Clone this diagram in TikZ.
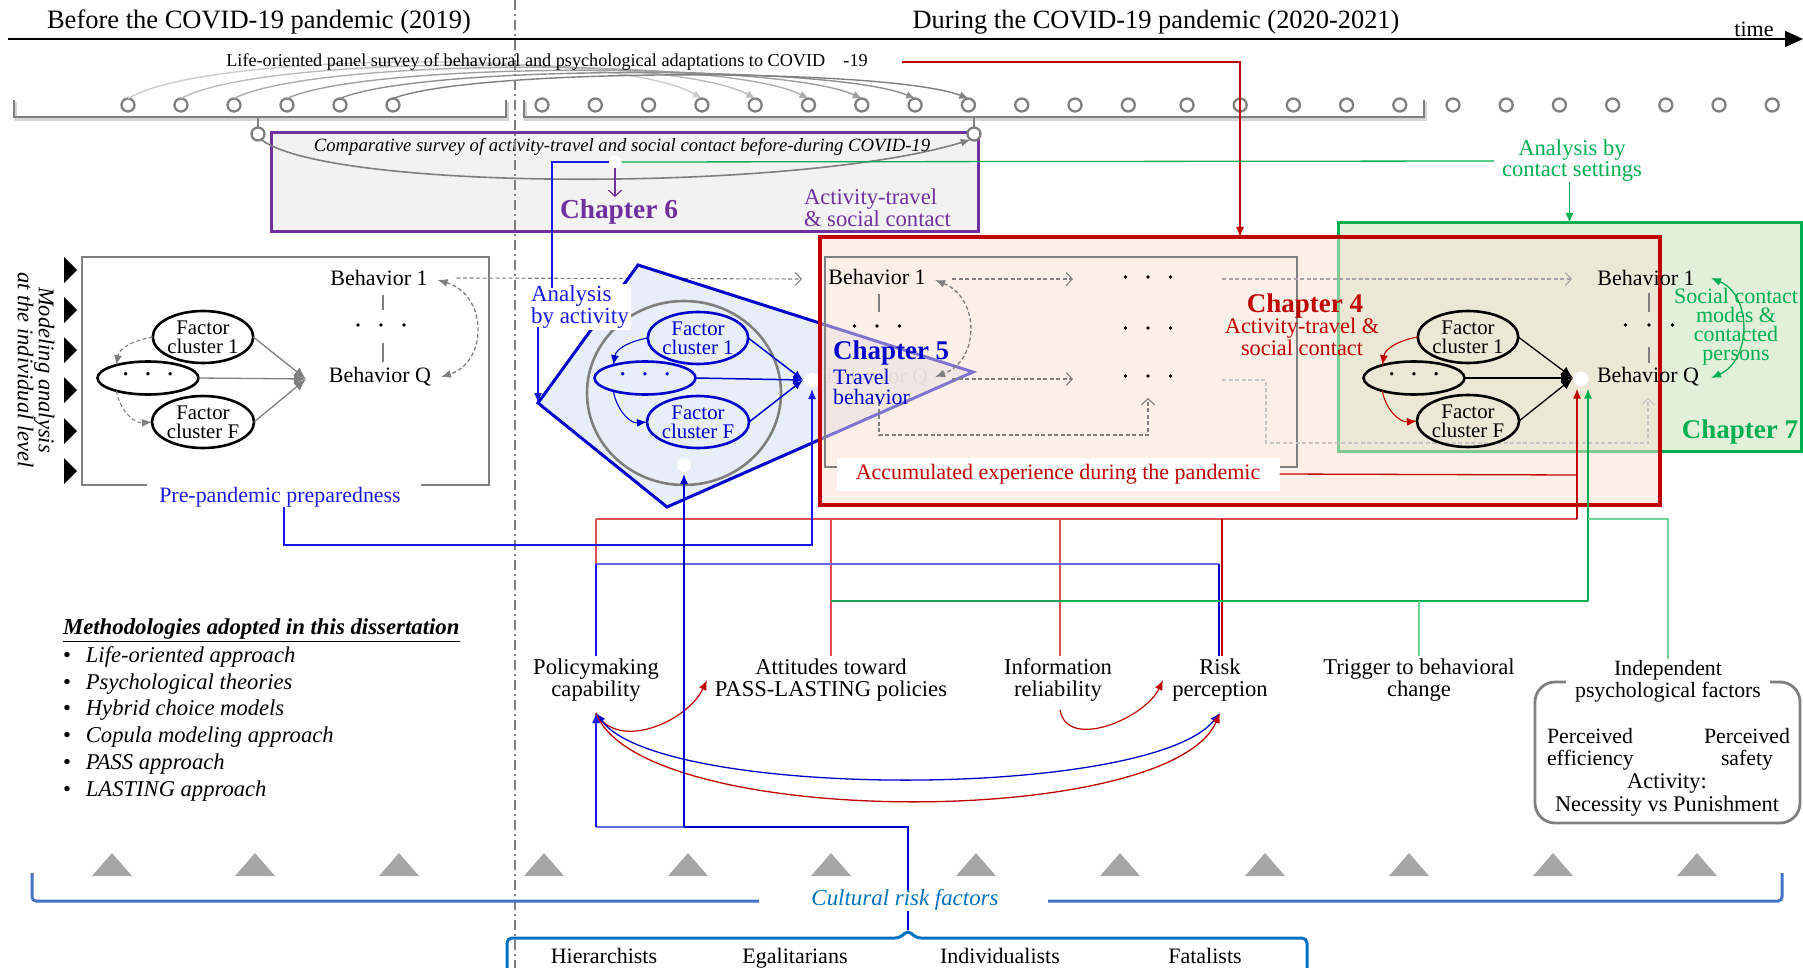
\documentclass[tikz,border=0pt]{standalone}
\usepackage{fontspec}
\setmainfont{Liberation Serif}
\usetikzlibrary{arrows.meta,shapes.geometric,calc}

\definecolor{gry}{HTML}{7F7F7F}
\definecolor{lgry}{HTML}{A6A6A6}
\definecolor{shadowgry}{HTML}{D4D4D4}
\definecolor{purp}{HTML}{7030A0}
\definecolor{chred}{HTML}{C00000}
\definecolor{softred}{HTML}{E05050}
\definecolor{chgreen}{HTML}{00B050}
\definecolor{softgreen}{HTML}{70D49A}
\definecolor{midgreen}{HTML}{20A060}
\definecolor{chblue}{HTML}{0000CC}
\definecolor{ppblue}{HTML}{1A1AE6}
\definecolor{softblue}{HTML}{6A6AE0}
\definecolor{penfill}{HTML}{E8EEF8}
\definecolor{boxgray}{HTML}{F2F2F2}
\definecolor{redfill}{HTML}{F9E0D3}
\definecolor{greenfill}{HTML}{E2EFD9}
\definecolor{cultblue}{HTML}{0070C0}
\definecolor{bracblue}{HTML}{4472C4}
\definecolor{fadeq}{HTML}{E6D9D9}

\newcommand{\setpx}[2]{\fontsize{#1}{#2}\selectfont}
\newcommand{\tridots}[1]{·\hspace{#1}·\hspace{#1}·}
% a row of three ellipsis dots centred at (#1,#2), #3 apart
\newcommand{\dotrowat}[3]{\foreach \dx in {-1,0,1} \fill ({#1+#3*\dx},#2) circle (1.8);}

\tikzset{
  every node/.style={inner sep=0pt, outer sep=0pt},
  lbl/.style={align=center, font=\setpx{22.6}{22}, inner sep=3pt},
  behav/.style={font=\setpx{22}{22}},
  culture/.style={font=\setpx{22}{22}, anchor=base},
  gline/.style={draw=gry, line width=2.6pt},
  fcell/.style={draw, ellipse, line width=2.6pt, minimum width=100pt, minimum height=52pt,
                inner sep=0pt, align=center, font=\setpx{20.8}{19}},
  dotell/.style={draw, ellipse, line width=2.6pt, minimum width=101pt, minimum height=33pt,
                 inner sep=0pt, font=\setpx{28}{28}},
  wdot/.style={circle, fill=white, minimum size=14pt, inner sep=0pt},
  wave/.style={circle, draw=gry, fill=white, line width=2.3pt, minimum size=13pt, inner sep=0pt},
  fa/.style={-{Latex[length=10pt,width=8pt]}},
  fab/.style={{Latex[length=10pt,width=8pt]}-{Latex[length=10pt,width=8pt]}},
  bigfa/.style={-{Latex[length=12pt,width=10pt]}},
  oa/.style={-{Straight Barb[length=6pt,width=13pt]}},
  gdash/.style={draw=gry, line width=1.3pt, dash pattern=on 4pt off 2.5pt},
}

\begin{document}
\begin{tikzpicture}[x=1pt,y=1pt]
\useasboundingbox (0,0) rectangle (1803,-968);

% ---------- time axis and period headings ----------
\coordinate (t0) at (8,-39);
\coordinate (t1) at (1803,-39);
\draw[line width=1.6pt, -{Triangle[length=18pt,width=16pt]}] (t0) -- (t1);
\node[font=\setpx{26.5}{26.5}] (hpre) at (259,-22) {Before the COVID-19 pandemic (2019)};
\node[font=\setpx{26.4}{26.4}] (hdur) at (1156,-22) {During the COVID-19 pandemic (2020-2021)};
\node[font=\setpx{22}{22}] (htime) at (1754,-29) {time};

% ---------- panel survey ----------
% Chapter 6 box
\node[draw=purp, fill=boxgray, line width=3pt, minimum width=707pt, minimum height=99pt,
      anchor=north west] (ch6) at (271,-133) {};

% brackets grouping the survey waves
\draw[shadowgry, line width=2.6pt] (15.5,-102) -- (15.5,-119.5) -- (507.5,-119.5) -- (507.5,-102);
\draw[shadowgry, line width=2.6pt] (525.5,-102) -- (525.5,-119.5) -- (1425.5,-119.5) -- (1425.5,-102);
\draw[gry, line width=2.6pt] (14,-100) -- (14,-117) -- (506,-117) -- (506,-100);
\draw[gry, line width=2.6pt] (524,-100) -- (524,-117) -- (1424,-117) -- (1424,-100);

% survey waves
\foreach \i in {0,...,5} \node[wave] (wL\i) at ({128+53*\i},-105) {};
\foreach \i in {0,...,11} \node[wave] (wR\i) at ({542+53.3*\i},-105) {};
\foreach \i in {0,...,11} \node[wave] (wS\i) at ({1187+53.2*\i},-105) {};
\node[wave] (wB0) at (258,-134) {};
\node[wave] (wB1) at (974,-134) {};
\draw[gry, line width=2.6pt] (258,-117) -- (wB0.north);
\draw[gry, line width=2.6pt] (974,-117) -- (wB1.north);

% repeated-measurement links
\foreach \i/\h/\c in {0/48/40,1/44/52,2/41/64,3/37/76,4/34/88,5/31/100} {
  \pgfmathtruncatemacro{\j}{\i+3}
  \draw[gry!\c, line width=1.4pt, -{Latex[length=9pt,width=8pt]}]
    (wL\i.north) .. controls +(80,\h) and +(-80,\h) .. (wR\j.north);
}
\node[font=\setpx{18.2}{18.2}] (lor) at (547,-62)
  {Life-oriented panel survey of behavioral and psychological adaptations to COVID\hspace{1em}-19};

% comparative survey link
\draw[gry, line width=1.6pt, -{Latex[length=10pt,width=8pt]}]
  (wB0.-60) .. controls (330,-192) and (800,-192) .. (wB1.240);

\node[font=\itshape\setpx{18.7}{18.7}] (cmp) at (622,-147)
  {Comparative survey of activity-travel and social contact before-during COVID-19};
\node[wdot, minimum size=13pt] (wd6) at (615,-162) {};
\node[font=\bfseries\setpx{27.4}{27.4}, text=purp] (c6) at (619,-212) {Chapter 6};
\node[font=\setpx{22.6}{20}, text=purp, align=left, anchor=west] (c6t) at (804,-208)
  {Activity-travel\\\& social contact};
\draw[purp, line width=1.2pt, oa] (wd6) -- (615,-197);

% period divider
\draw[gry, line width=1.6pt, dash pattern=on 10pt off 4pt on 2pt off 4pt] (515,0) -- (515,-968);

% ---------- pre-pandemic model ----------
\draw[gry, line width=2.8pt] (147,-485) -- (82,-485) -- (82,-257) -- (489,-257) -- (489,-485) -- (421,-485);
\node[text=ppblue, font=\setpx{21.9}{21.9}] (pre) at (280,-497) {Pre-pandemic preparedness};

\foreach \y in {270,310,350,390,431,471}
  \fill (64,-\y+13) -- (77,-\y) -- (64,-\y-13) -- cycle;
\node[rotate=-90, align=center, font=\itshape\setpx{22.5}{21}] (mod) at (36,-370)
  {Modeling analysis\\at the individual level};

\node[fcell] (lf1) at (203,-337) {Factor\\cluster 1};
\node[dotell] (ld) at (148,-378) {\tridots{13pt}};
\node[fcell] (lfF) at (203,-422) {Factor\\cluster F};
\coordinate (lcv) at (306,-379);
\draw[gry, line width=1.3pt, bigfa] (lf1.east) -- (lcv);
\draw[gry, line width=1.3pt, bigfa] (ld.east) -- (lcv);
\draw[gry, line width=1.3pt, bigfa] (lfF.east) -- (lcv);
\draw[gdash, line width=1.1pt, fa] (lf1.west) to[out=190,in=80] (ld.158);
\draw[gdash, line width=1.1pt, fa] (ld.202) to[out=-80,in=185] (lfF.west);

\node[behav] (lb1) at (379,-278) {Behavior 1};
\node[behav] (lbQ) at (380,-377) {Behavior Q};
\draw[gline] (383,-295) -- (383,-310);
\draw[gline] (383,-343) -- (383,-362);
\dotrowat{381}{-325}{23}
\draw[gdash, fab] ([xshift=10pt,yshift=-2pt]lb1.east) .. controls (488,-295) and (488,-362) .. ([xshift=10pt]lbQ.east);
\draw[gdash, line width=1.1pt, oa] ([xshift=29pt]lb1.east) -- (802,-279);

% ---------- Chapter 5: travel behavior ----------
\coordinate (pT) at (638,-265);
\coordinate (pR) at (973,-372);
\coordinate (pB) at (667,-507);
\coordinate (pL) at (538,-403);
\draw[chblue, fill=penfill, line width=3pt] (pT) -- (pR) -- (pB) -- (pL) -- cycle;
\draw[gry, line width=2.6pt] (684,-393) ellipse [x radius=97, y radius=92];

\node[fcell, draw=chblue, text=chblue] (bf1) at (698,-338) {Factor\\cluster 1};
\node[dotell, draw=chblue, text=chblue] (bd) at (645,-378) {\tridots{13pt}};
\node[fcell, draw=chblue, text=chblue] (bfF) at (698,-422) {Factor\\cluster F};
\coordinate (bcv) at (803,-380);
\draw[chblue, line width=1.5pt, fa] (bf1.east) -- (bcv);
\draw[chblue, line width=1.5pt, fa] (bd.east) -- (bcv);
\draw[chblue, line width=1.5pt, fa] (bfF.east) -- (bcv);
\draw[chblue, line width=1.1pt, fa] (bf1.west) to[out=190,in=80] (bd.158);
\draw[chblue, line width=1.1pt, fa] (bd.202) to[out=-80,in=185] (bfF.west);
\node[wdot] (wd5a) at (812,-380) {};
\node[wdot] (wd5b) at (684,-465) {};

\node[fill=white, inner sep=2pt, align=left, anchor=west, text=ppblue, font=\setpx{23}{20}] (aba)
  at (529,-307) {Analysis\\by activity};
\draw[ppblue, line width=1.2pt] (wd6.west) -- (552,-162) -- (552,-288);
\draw[ppblue, line width=1.2pt, fa] (538,-327) -- (pL);

% ---------- Chapter 7 and Chapter 4 frames ----------
\node[fill=greenfill, draw=chgreen, line width=3pt, anchor=north west,
      minimum width=463pt, minimum height=228pt] (ch7) at (1338,-223) {};
\node[fill=redfill, fill opacity=0.52, draw=chred, line width=3.5pt, anchor=north west,
      minimum width=840pt, minimum height=268pt] (ch4) at (820,-237) {};
\draw[chred, line width=1.3pt, fa] (902,-62) -| (ch4.north);
\node[text=chgreen, align=center, font=\setpx{22.6}{19}] (acs) at (1572,-161) {Analysis by\\contact settings};
\draw[chgreen, line width=1.3pt] (wd6.east) -- ([xshift=-8pt]acs.west);
\draw[chgreen, line width=1.3pt, fa] (ch7.north |- 0,-182) -- (ch7.north);

% ---------- Chapter 4: activity-travel & social contact ----------
\draw[gry, line width=2.6pt] (825,-257) rectangle (1297,-467);
\node[behav] (cb1) at (877,-277) {Behavior 1};
\node[behav, text=fadeq] (cbQ) at (877,-378) {Behavior Q};
\draw[gline] (879,-294) -- (879,-312);
\dotrowat{877}{-326}{22.5}
\draw[gdash, fab] (935,-280) .. controls (980,-298) and (980,-360) .. (935,-377);
\draw[gdash, line width=1.1pt, oa] (952,-279) -- (1073,-279);
\draw[gdash, line width=1.1pt, oa] (952,-379) -- (1073,-379);
\dotrowat{1148}{-277}{22.5}
\dotrowat{1148}{-328}{22.5}
\dotrowat{1148}{-376}{22.5}
\draw[gdash, line width=1.1pt, oa] (879,-402) -- (879,-435) -- (1148,-435) -- (1148,-398);
\draw[gdash, draw=lgry, line width=1.1pt, oa] (1222,-279) -- (1572,-279);
\draw[gdash, draw=gry!45, line width=1.1pt, oa] (1222,-380) -- (1266,-380) -- (1266,-443) -- (1648,-443) -- (1648,-398);

\node[fill=white, minimum width=443pt, minimum height=33pt, text=chred, font=\setpx{22}{22}] (acc)
  at (1058,-474) {Accumulated experience during the pandemic};
\node[text=chred, font=\bfseries\setpx{27}{27}] (c4) at (1305,-306) {Chapter 4};
\node[text=chred, align=center, font=\setpx{22.3}{20}] (c4t) at (1302,-337) {Activity-travel \&\\social contact};

% Chapter 5 labels sit above the Chapter 4 frame
\node[anchor=west, text=chblue, font=\bfseries\setpx{27}{27}] (c5) at (833,-353) {Chapter 5};
\node[anchor=west, align=left, text=chblue, font=\setpx{22}{20}] (c5t) at (833,-387) {Travel\\behavior};

% ---------- Chapter 7: social contact ----------
\node[behav] (gb1) at (1646,-278) {Behavior 1};
\node[behav] (gbQ) at (1648,-377) {Behavior Q};
\draw[gline] (1649,-293) -- (1649,-312);
\draw[gline] (1649,-347) -- (1649,-363);
\dotrowat{1649}{-325}{23.5}
\node[fcell] (gf1) at (1468,-337) {Factor\\cluster 1};
\node[dotell] (gd) at (1414,-378) {\tridots{13pt}};
\node[fcell] (gfF) at (1468,-421) {Factor\\cluster F};
\coordinate (gcv) at (1573,-378);
\draw[line width=1.3pt, bigfa] (gf1.east) -- (gcv);
\draw[line width=1.3pt, bigfa] (gd.east) -- (gcv);
\draw[line width=1.3pt, bigfa] (gfF.east) -- (gcv);
\draw[chred, line width=1.1pt, fa] (gf1.west) to[out=190,in=80] (gd.158);
\draw[chred, line width=1.1pt, fa] (gd.202) to[out=-80,in=185] (gfF.west);
\node[wdot, minimum size=15pt] (wd7) at (1581,-379) {};
\draw[chgreen, line width=1.3pt, fab] (1711,-278) .. controls (1752,-295) and (1752,-360) .. (1711,-378);
\node[text=chgreen, align=center, font=\setpx{22}{19}] (scm) at (1736,-327) {Social contact\\modes \&\\contacted\\persons};
\node[text=chgreen, font=\bfseries\setpx{27}{27}] (c7) at (1740,-432) {Chapter 7};

% ---------- determinants ----------
\node[lbl] (pol) at (596,-680) {Policymaking\\capability};
\node[lbl] (att) at (831,-680) {Attitudes toward\\PASS-LASTING policies};
\node[lbl] (inf) at (1058,-680) {Information\\reliability};
\node[lbl] (risk) at (1220,-680) {Risk\\perception};
\node[lbl] (trig) at (1419,-680) {Trigger to behavioral\\change};

\draw[gry, line width=2.8pt, rounded corners=20pt] (1535,-682) rectangle (1800,-823);
\node[lbl, font=\setpx{21.8}{22}, fill=white, inner xsep=9pt, inner ysep=1pt] (indep) at (1668,-681) {Independent\\psychological factors};
\node[align=left, anchor=west, font=\setpx{21.8}{22}] (pe) at (1547,-749) {Perceived\\efficiency};
\node[align=center, font=\setpx{21.8}{22}] (ps) at (1747,-749) {Perceived\\safety};
\node[align=center, font=\setpx{22.4}{23}] (act) at (1667,-795) {Activity:\\Necessity vs Punishment};

% links from the determinants to the chapters
\draw[softred, line width=1.2pt] (pol.north |- 0,-519) -- (1577,-519);
\draw[softred, line width=1.2pt] (596,-519) -- (596,-564);
\draw[softred, line width=1.2pt] (att.north |- 0,-519) -- (att.north);
\draw[softred, line width=1.2pt] (1060,-519) -- (1060,-656);
\draw[chred, line width=1.2pt] (1222,-519) -- (1222,-656);
\draw[chred, line width=1.3pt] (acc.east) -- (1577,-475);
\draw[chred, line width=1.6pt, fa] (1577,-519) -- ([xshift=-4pt,yshift=-2pt]wd7.south);

\draw[softblue, line width=2pt] (596,-564) -- (1219,-564);
\draw[ppblue, line width=1.3pt] (596,-564) -- (pol.north);
\draw[chblue, line width=1.3pt] (1219,-564) -- (1219,-656);
\draw[ppblue, line width=1.2pt, fa] (pre.south -| 284,0) -- (284,-545) -- (812,-545) -- ([yshift=-2pt]wd5a.south);

\draw[midgreen, line width=1.2pt] (831,-601) -- (1060,-601);
\draw[chgreen, line width=2.2pt] (1060,-601) -- (1588,-601);
\draw[chgreen, line width=1.6pt, fa] (1588,-601) -- ([xshift=7pt,yshift=-2pt]wd7.south);
\draw[softgreen, line width=1.2pt] (1419,-601) -- (trig.north);
\draw[softgreen, line width=1.2pt] (1588,-519) -- (1668,-519) -- (indep.north);

% interrelations among the determinants
\coordinate (polB) at (596,-713);
\coordinate (riskB) at (1220,-713);
\draw[chred, line width=1.2pt, fa] (polB) to[out=-60,in=245] (707,-680);
\draw[chred, line width=1.2pt, fa] (1060,-710) to[out=-80,in=245] (1163,-680);
\draw[chblue, line width=1.3pt, fab] (polB) .. controls (660,-800) and (1150,-800) .. (riskB);
\draw[chred, line width=1.3pt, fa] (polB) .. controls (640,-830) and (1170,-830) .. (riskB);

% cultural risk factors
\foreach \x in {112,255,399,544,688,831,976,1120,1265,1409,1553,1697}
  \fill[lgry] (\x,-853) -- (\x+20,-876) -- (\x-20,-876) -- cycle;
\draw[bracblue, line width=3pt, rounded corners=4pt] (32,-873) -- (32,-901) -- (759,-901);
\draw[bracblue, line width=3pt, rounded corners=4pt] (1048,-901) -- (1782,-901) -- (1782,-873);
\node[text=cultblue, font=\itshape\setpx{22.9}{22.9}] (crf) at (905,-900) {Cultural risk factors};
\draw[cultblue, line width=3pt, rounded corners=5pt] (507,-968) -- (507,-938) -- (900,-938) -- (908,-930) -- (916,-938) -- (1307,-938) -- (1307,-968);
\draw[chblue, line width=1.2pt] (crf.south -| 908,0) -- (908,-930);
\draw[softblue, line width=1.5pt] (596,-827) -- (684,-827);
\draw[chblue, line width=1.5pt] (684,-827) -- (908,-827) -- (crf.north -| 908,0);
\draw[ppblue, line width=1.3pt, fa] (596,-827) -- (polB);
\draw[chblue, line width=1.2pt, fa] (684,-827) -- ([yshift=-2pt]wd5b.south);

\node[culture] (hier) at (604,-963) {Hierarchists};
\node[culture] (egal) at (795,-963) {Egalitarians};
\node[culture] (indiv) at (1000,-963) {Individualists};
\node[culture] (fatal) at (1205,-963) {Fatalists};

% ---------- methodologies ----------
\node[anchor=west, font=\bfseries\itshape\setpx{22.8}{22.8}] (mh) at (63,-630)
  {\underline{Methodologies adopted in this dissertation}};
\foreach \t [count=\k] in {Life-oriented approach, Psychological theories, Hybrid choice models,
                           Copula modeling approach, PASS approach, LASTING approach}
  \node[anchor=west, font=\itshape\setpx{22.6}{22.6}] (m\k) at (63,{-630-26.8*\k}) {\upshape•\hspace{15pt}\itshape\t};

\end{tikzpicture}
\end{document}
